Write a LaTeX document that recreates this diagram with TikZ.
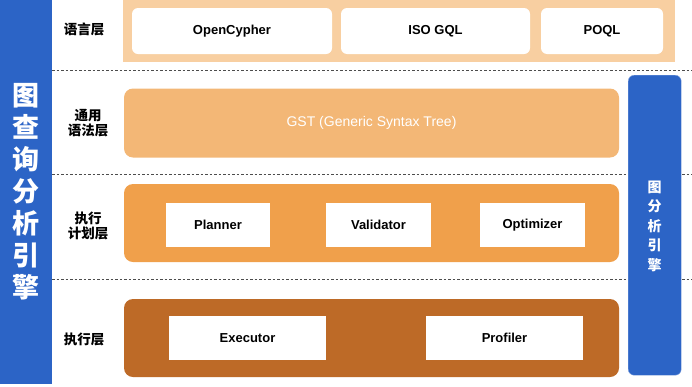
\documentclass[tikz,border=0pt]{standalone}
\usepackage{fontspec}
\setmainfont{Liberation Sans}
\newfontfamily\cjk{Noto Sans CJK SC}
\usetikzlibrary{positioning}
\definecolor{engblue}{HTML}{2C64C6}
\definecolor{langbg}{HTML}{F8CFA1}
\definecolor{gstc}{HTML}{F3B776}
\definecolor{planc}{HTML}{F0A04B}
\definecolor{execc}{HTML}{BD6A27}
\begin{document}
\begin{tikzpicture}[x=1pt,y=-1pt,
  wbox/.style={fill=white,draw=none,inner sep=0pt,font=\bfseries\fontsize{13}{15}\selectfont},
  layerlbl/.style={font=\cjk\bfseries\fontsize{13.5}{15.5}\selectfont,align=center,inner sep=0pt},
  sep/.style={draw=black!70,dashed,line width=0.6pt,dash pattern=on 2.5pt off 2pt},
  layerbox/.style={draw=none,rounded corners=9pt,inner sep=0pt}]
\useasboundingbox (0,0) rectangle (692,386);
% left engine bar
\node[fill=engblue,minimum width=52pt,minimum height=384pt,anchor=north west,inner sep=0pt] (leftbar) at (0,0) {};
\node[font=\cjk\bfseries\fontsize{27}{32}\selectfont,text=white,align=center,inner sep=0pt] (lefttxt) at (26,192) {图\\查\\询\\分\\析\\引\\擎};
% separators
\coordinate (s1a) at (52,70); \coordinate (s1b) at (692,70);
\coordinate (s2a) at (52,174); \coordinate (s2b) at (692,174);
\coordinate (s3a) at (52,279); \coordinate (s3b) at (692,279);
\draw[sep] (s1a) -- (s1b);
\draw[sep] (s2a) -- (s2b);
\draw[sep] (s3a) -- (s3b);
% right bar
\node[fill=engblue,draw=engblue!60,line width=0.4pt,rounded corners=6pt,minimum width=53pt,minimum height=300pt,anchor=north west,inner sep=0pt] (rightbar) at (628,75) {};
\node[font=\cjk\bfseries\fontsize{14}{19.5}\selectfont,text=white,align=center,inner sep=0pt] (righttxt) at (654.5,226) {图\\分\\析\\引\\擎};
% language layer
\node[fill=langbg,minimum width=552pt,minimum height=62pt,anchor=north west,inner sep=0pt] (langbox) at (123,0) {};
\node[wbox,rounded corners=6pt,minimum width=200pt,minimum height=46pt] (ocy) at (232,31) {OpenCypher};
\node[wbox,rounded corners=6pt,minimum width=189pt,minimum height=46pt] (gql) at (435.5,31) {ISO GQL};
\node[wbox,rounded corners=6pt,minimum width=122pt,minimum height=46pt] (poql) at (602,31) {POQL};
\node[layerlbl] (l1) at (84,29) {语言层};
% GST
\node[layerbox,fill=gstc,minimum width=495pt,minimum height=69pt,text=white,font=\fontsize{14}{16}\selectfont] (gst) at (371.5,123) {GST (Generic Syntax Tree)};
\node[layerlbl] (l2) at (88,123) {通用\\语法层};
% planning
\node[layerbox,fill=planc,minimum width=495pt,minimum height=78pt] (plan) at (371.5,223) {};
\node[wbox,minimum width=104pt,minimum height=44pt] (planner) at (218,225) {Planner};
\node[wbox,minimum width=105pt,minimum height=44pt] (valid) at (378.5,225) {Validator};
\node[wbox,minimum width=105pt,minimum height=44pt] (optim) at (532.5,225) {Optimizer};
\node[layerlbl] (l3) at (88,226) {执行\\计划层};
% execution
\node[layerbox,fill=execc,minimum width=495pt,minimum height=78pt] (exec) at (371.5,338) {};
\node[wbox,minimum width=157pt,minimum height=44pt] (executor) at (247.5,338) {Executor};
\node[wbox,minimum width=157pt,minimum height=44pt] (profiler) at (504.5,338) {Profiler};
\node[layerlbl] (l4) at (84,339) {执行层};
\end{tikzpicture}
\end{document}
